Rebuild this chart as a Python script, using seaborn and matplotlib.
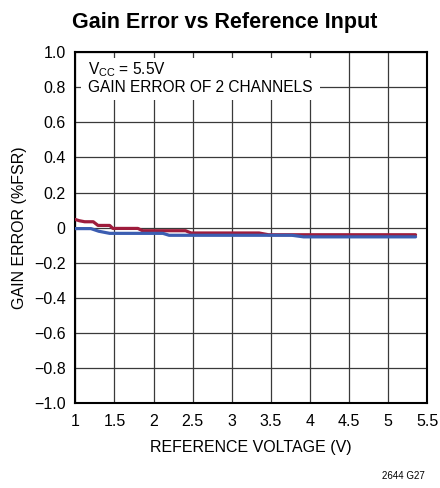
import numpy as np
import pandas as pd
import matplotlib
matplotlib.use('Agg')
import matplotlib.pyplot as plt
import matplotlib.patches as mpatches
import seaborn as sns

sns.set_style('white')
plt.rcParams['font.family'] = ['Liberation Sans', 'DejaVu Sans']
plt.rcParams['text.color'] = 'black'
plt.rcParams['axes.labelcolor'] = 'black'
plt.rcParams['xtick.color'] = 'black'
plt.rcParams['ytick.color'] = 'black'

# channel 1 (red) and channel 2 (blue)
vref_red = [1.0, 1.05, 1.12, 1.23, 1.29, 1.44, 1.48, 1.80, 1.86, 2.41, 2.48, 3.35, 3.47, 5.35]
err_red = [0.047, 0.04, 0.034, 0.034, 0.013, 0.013, -0.004, -0.004, -0.017, -0.017, -0.03, -0.03, -0.04, -0.04]
vref_blue = [1.0, 1.2, 1.3, 1.44, 2.12, 2.2, 3.77, 3.92, 5.35]
err_blue = [-0.005, -0.005, -0.02, -0.032, -0.032, -0.043, -0.043, -0.052, -0.052]

df = pd.concat([
    pd.DataFrame({'vref': vref_red, 'err': err_red, 'ch': 'CH1'}),
    pd.DataFrame({'vref': vref_blue, 'err': err_blue, 'ch': 'CH2'}),
])

xticks = [1, 1.5, 2, 2.5, 3, 3.5, 4, 4.5, 5, 5.5]
xticklabels = ['1', '1.5', '2', '2.5', '3', '3.5', '4', '4.5', '5', '5.5']
yticks = np.round(np.arange(-1.0, 1.01, 0.2), 1)
yticklabels = ['\u22121.0', '\u22120.8', '\u22120.6', '\u22120.4', '\u22120.2', '0', '0.2', '0.4', '0.6', '0.8', '1.0']

fig = plt.figure(figsize=(4.4, 4.88), dpi=100)
ax = fig.add_axes([0.1711, 0.1732, 0.8, 0.7203])

sns.lineplot(data=df, x='vref', y='err', hue='ch', palette=['#9e1c3c', '#3b5db1'],
             linewidth=2.3, legend=False, ax=ax, zorder=3, sort=False)

ax.set_xlim(1, 5.5)
ax.set_ylim(-1.0, 1.0)
ax.set_xticks(xticks)
ax.set_xticklabels(xticklabels, fontsize=11.5)
ax.set_yticks(yticks)
ax.set_yticklabels(yticklabels, fontsize=11.5)
ax.grid(True, color='#3a3a3a', linewidth=0.9)
ax.tick_params(axis='x', length=0, pad=7.5)
ax.tick_params(axis='y', length=0, pad=7)
for s in ax.spines.values():
    s.set_color('black')
    s.set_linewidth(1.5)

ax.set_xlabel('REFERENCE VOLTAGE (V)', fontsize=11.5, labelpad=8)
ax.set_ylabel('GAIN ERROR (%FSR)', fontsize=11.5, labelpad=5)

# white box behind the note, hides the grid
ax.add_patch(mpatches.Rectangle((1.073, 0.727), 3.055, 0.239, facecolor='white',
                                edgecolor='none', zorder=2.5))
ax.text(1.162, 0.875, 'V$_{\\mathregular{CC}}$ = 5.5V', fontsize=11.2, va='baseline',
        ha='left', zorder=4)
ax.text(1.162, 0.772, 'GAIN ERROR OF 2 CHANNELS', fontsize=11.2, va='baseline',
        ha='left', zorder=4)

fig.text(0.511, 0.9426, 'Gain Error vs Reference Input', fontsize=15.5, fontweight='bold',
         ha='center', va='baseline')
fig.text(0.966, 0.0246, '2644 G27', fontsize=7, ha='right', va='center')

fig.savefig('out.png', dpi=100)
